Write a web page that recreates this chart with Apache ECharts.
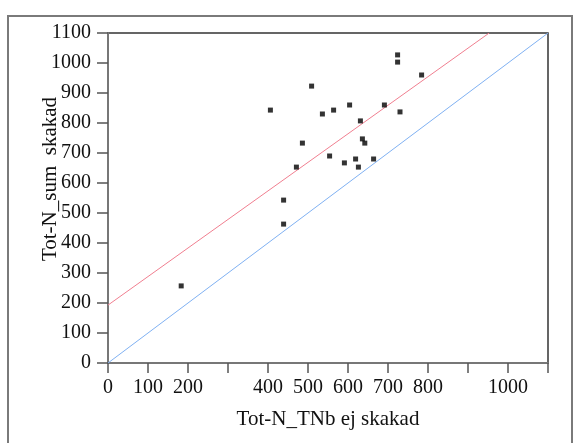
<!DOCTYPE html>
<html>
<head>
<meta charset="utf-8">
<script src="https://cdn.jsdelivr.net/npm/echarts@6/dist/echarts.min.js"></script>
<style>
html,body{margin:0;padding:0;background:#fff;}
#chart{width:573px;height:443px;}
</style>
</head>
<body>
<div id="chart"></div>
<script>
// Data
const xValues = [724, 724, 784, 509, 406, 536, 564, 604, 691, 730, 631, 486, 636, 642, 554, 471, 591, 619, 626, 664, 439, 439, 183];
const yValues = [1027, 1003, 960, 923, 843, 830, 843, 860, 860, 837, 807, 733, 747, 733, 690, 653, 667, 680, 653, 680, 543, 463, 257];
const fitLine = [[0, 193], [953, 1100]];
const identityLine = [[0, 0], [1100, 1100]];
const xTickLabels = {0:'0',100:'100',200:'200',300:'',400:'400',500:'500',600:'600',700:'700',800:'800',900:'',1000:'1000',1100:''};
const xName = 'Tot-N_TNb ej skakad';
const yName = 'Tot-N_sum  skakad';

const points = xValues.map((x, i) => [x, yValues[i]]);
const font = '"Liberation Serif", "Times New Roman", serif';

const chart = echarts.init(document.getElementById('chart'), null, {renderer: 'canvas'});
chart.setOption({
  backgroundColor: '#fff',
  animation: false,
  textStyle: {fontFamily: font},
  grid: {left: 108, top: 33, width: 440, height: 330, show: true, borderColor: '#333', borderWidth: 1.5, backgroundColor: 'transparent'},
  graphic: [
    {type: 'rect', shape: {x: 8, y: 16, width: 564, height: 440}, style: {fill: 'none', stroke: '#7a7a7a', lineWidth: 2}, z: -1},
    {type: 'text', x: 50, y: 179, rotation: Math.PI / 2,
     style: {text: yName, fontFamily: font, fontSize: 21, fill: '#111', textAlign: 'center', textVerticalAlign: 'middle'}}
  ],
  xAxis: {
    type: 'value', min: 0, max: 1100, interval: 100,
    name: xName, nameLocation: 'middle', nameGap: 46,
    nameTextStyle: {fontFamily: font, fontSize: 21, color: '#111'},
    axisLine: {show: true, lineStyle: {color: '#777', width: 2}},
    axisTick: {show: true, length: 10, lineStyle: {color: '#555', width: 1.5}},
    axisLabel: {fontFamily: font, fontSize: 20, color: '#111', margin: 15, showMaxLabel: true,
      formatter: v => (xTickLabels[v] !== undefined ? xTickLabels[v] : '')},
    splitLine: {show: false}
  },
  yAxis: {
    type: 'value', min: 0, max: 1100, interval: 100,
    axisLine: {show: true, lineStyle: {color: '#777', width: 2}},
    axisTick: {show: true, length: 11, lineStyle: {color: '#555', width: 1.5}},
    axisLabel: {fontFamily: font, fontSize: 20, color: '#111', margin: 17, formatter: v => String(v)},
    splitLine: {show: false}
  },
  series: [
    {type: 'line', data: identityLine, symbol: 'none', lineStyle: {color: '#7fb0f2', width: 1}, z: 2},
    {type: 'line', data: fitLine, symbol: 'none', lineStyle: {color: '#f07f90', width: 1}, z: 2},
    {type: 'scatter', data: points, symbol: 'rect', symbolSize: 5, itemStyle: {color: '#000'}, z: 3}
  ]
});
</script>
</body>
</html>
